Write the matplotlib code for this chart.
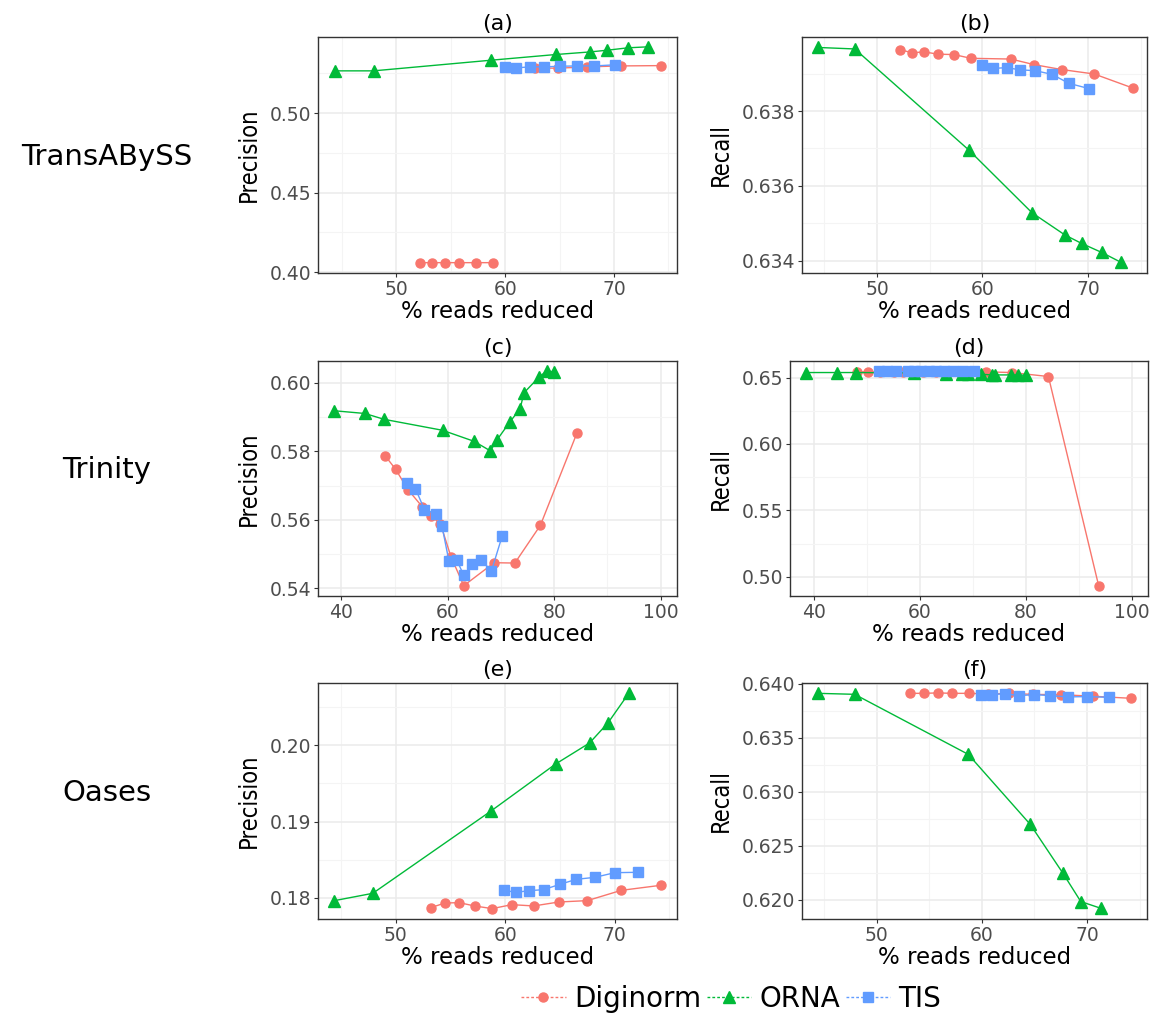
import numpy as np
import matplotlib
matplotlib.use("Agg")
import matplotlib.pyplot as plt
from matplotlib.ticker import MultipleLocator, AutoMinorLocator
from matplotlib.lines import Line2D

# colours (ggplot defaults)
c_dig = "#F8766D"
c_orna = "#00BA38"
c_tis = "#619CFF"

# ---------------- TransABySS ----------------
tab_orna_x = [44.4, 47.9, 58.7, 64.7, 67.8, 69.4, 71.3, 73.1]
tab_orna_prec = [0.5265, 0.5265, 0.5332, 0.5368, 0.5384, 0.5395, 0.5410, 0.5416]
tab_orna_rec = [0.63970, 0.63966, 0.63696, 0.63528, 0.63469, 0.63446, 0.63422, 0.63396]

tab_tis_x = [60.0, 61.0, 62.3, 63.6, 65.0, 66.6, 68.2, 70.1]
tab_tis_prec = [0.5290, 0.5284, 0.5290, 0.5290, 0.5294, 0.5296, 0.5296, 0.5303]
tab_tis_rec = [0.63922, 0.63914, 0.63916, 0.63910, 0.63908, 0.63898, 0.63874, 0.63860]

tab_dig_x = [52.2, 53.3, 54.5, 55.8, 57.3, 58.9, 62.7, 64.9, 67.5, 70.6, 74.3]
tab_dig_rec = [0.63964, 0.63956, 0.63958, 0.63952, 0.63951, 0.63941, 0.63939, 0.63924,
               0.63911, 0.63899, 0.63861]
# precision: low group, then a gap, then the upper group
tab_dig_prec_x = [52.2, 53.3, 54.5, 55.8, 57.3, 58.9, np.nan, 62.7, 64.9, 67.5, 70.6, 74.3]
tab_dig_prec = [0.4059, 0.4059, 0.4059, 0.4059, 0.4059, 0.4059, np.nan,
                0.5282, 0.5282, 0.5290, 0.5296, 0.5298]

# ---------------- Trinity ----------------
tri_orna_x = [38.6, 44.4, 48.0, 59.0, 64.9, 68.0, 69.2, 71.6, 73.6, 74.3, 77.2, 78.6, 80.0]
tri_orna_prec = [0.5918, 0.5910, 0.5893, 0.5861, 0.5829, 0.5801, 0.5832, 0.5884,
                 0.5924, 0.5970, 0.6017, 0.6034, 0.6031]
tri_orna_rec = [0.6538, 0.6538, 0.6538, 0.6535, 0.6530, 0.6528, 0.6528, 0.6525,
                0.6520, 0.6520, 0.6520, 0.6518, 0.6518]

tri_dig_x = [48.2, 50.2, 52.5, 55.2, 56.8, 58.6, 60.6, 63.0, 68.7, 72.6, 77.4, 84.3]
tri_dig_prec = [0.5787, 0.5747, 0.5688, 0.5638, 0.5611, 0.5589, 0.5492, 0.5408,
                0.5475, 0.5474, 0.5584, 0.5854]
tri_dig_rec_x = [48.2, 50.2, 52.5, 55.2, 56.8, 58.6, 60.6, 63.0, 68.7, 72.6, 77.4, 84.3, 93.8]
tri_dig_rec = [0.6543, 0.6543, 0.6543, 0.6543, 0.6543, 0.6543, 0.6543, 0.6543,
               0.6543, 0.6543, 0.6538, 0.6508, 0.4930]

tri_tis_x = [52.3, 53.9, 55.6, 57.7, 58.9, 60.2, 61.7, 63.0, 64.6, 66.2, 68.2, 70.2]
tri_tis_prec = [0.5708, 0.5691, 0.5630, 0.5618, 0.5582, 0.5480, 0.5482, 0.5438,
                0.5470, 0.5484, 0.5451, 0.5552]
tri_tis_rec = [0.6546, 0.6546, 0.6546, 0.6546, 0.6546, 0.6546, 0.6546, 0.6548,
               0.6548, 0.6546, 0.6546, 0.6546]

# ---------------- Oases ----------------
oas_orna_x = [44.4, 47.9, 58.7, 64.6, 67.7, 69.4, 71.3]
oas_orna_prec = [0.17961, 0.18057, 0.19138, 0.19755, 0.20031, 0.20298, 0.20687]
oas_orna_rec = [0.63910, 0.63901, 0.63346, 0.62698, 0.62247, 0.61985, 0.61923]

oas_dig_x = [53.2, 54.5, 55.8, 57.2, 58.8, 60.6, 62.6, 64.9, 67.5, 70.6, 74.2]
oas_dig_prec = [0.17869, 0.17930, 0.17934, 0.17891, 0.17856, 0.17908, 0.17891,
                0.17943, 0.17961, 0.18096, 0.18162]
oas_dig_rec = [0.63910, 0.63910, 0.63914, 0.63910, 0.63910, 0.63904, 0.63910,
               0.63900, 0.63898, 0.63883, 0.63864]

oas_tis_x = [59.9, 61.0, 62.2, 63.5, 65.0, 66.5, 68.2, 70.0, 72.1]
oas_tis_prec = [0.18096, 0.18070, 0.18092, 0.18105, 0.18175, 0.18241, 0.18267,
                0.18328, 0.18333]
oas_tis_rec = [0.63895, 0.63898, 0.63907, 0.63889, 0.63898, 0.63889, 0.63877,
               0.63880, 0.63873]

assemblers = ["TransABySS", "Trinity", "Oases"]
panel_titles = ["(a)", "(b)", "(c)", "(d)", "(e)", "(f)"]
legend_labels = ["Diginorm", "ORNA", "TIS"]

fig = plt.figure(figsize=(11.57, 10.16), dpi=100)

# axes boxes in figure fractions [left, bottom, width, height]
boxes = [
    [0.2749, 0.7313, 0.3103, 0.2323], [0.6932, 0.7313, 0.2982, 0.2323],
    [0.2749, 0.4134, 0.3103, 0.2313], [0.6828, 0.4134, 0.3094, 0.2313],
    [0.2749, 0.0955, 0.3103, 0.2323], [0.6932, 0.0955, 0.2982, 0.2323],
]

# (series, xlim, ylim, xstep, ystep, ylabel, yfmt)
panels = [
    ([(tab_dig_prec_x, tab_dig_prec), (tab_orna_x, tab_orna_prec), (tab_tis_x, tab_tis_prec)],
     (42.8, 75.8), (0.3994, 0.5478), 10, 0.05, "Precision", "%.2f"),
    ([(tab_dig_x, tab_dig_rec), (tab_orna_x, tab_orna_rec), (tab_tis_x, tab_tis_rec)],
     (42.9, 75.6), (0.63367, 0.63998), 10, 0.002, "Recall", "%.3f"),
    ([(tri_dig_x, tri_dig_prec), (tri_orna_x, tri_orna_prec), (tri_tis_x, tri_tis_prec)],
     (35.6, 103.1), (0.5378, 0.6063), 20, 0.02, "Precision", "%.2f"),
    ([(tri_dig_rec_x, tri_dig_rec), (tri_orna_x, tri_orna_rec), (tri_tis_x, tri_tis_rec)],
     (35.5, 103.1), (0.4855, 0.6625), 20, 0.05, "Recall", "%.2f"),
    ([(oas_dig_x, oas_dig_prec), (oas_orna_x, oas_orna_prec), (oas_tis_x, oas_tis_prec)],
     (42.9, 75.7), (0.1772, 0.2082), 10, 0.01, "Precision", "%.2f"),
    ([(oas_dig_x, oas_dig_rec), (oas_orna_x, oas_orna_rec), (oas_tis_x, oas_tis_rec)],
     (42.9, 75.7), (0.61824, 0.64006), 10, 0.005, "Recall", "%.3f"),
]

colors = [c_dig, c_orna, c_tis]
markers = ["o", "^", "s"]
msizes = [6.5, 8.5, 7]

for i, (series, xlim, ylim, xs, ys, ylab, yfmt) in enumerate(panels):
    ax = fig.add_axes(boxes[i])
    for (x, y), col, mk, ms in zip(series, colors, markers, msizes):
        ax.plot(x, y, color=col, lw=1.0, marker=mk, ms=ms, mec=col, mfc=col, zorder=3)
    ax.set_xlim(*xlim)
    ax.set_ylim(*ylim)
    ax.xaxis.set_major_locator(MultipleLocator(xs))
    ax.yaxis.set_major_locator(MultipleLocator(ys))
    ax.xaxis.set_minor_locator(AutoMinorLocator(2))
    ax.yaxis.set_minor_locator(AutoMinorLocator(2))
    ax.yaxis.set_major_formatter(matplotlib.ticker.FormatStrFormatter(yfmt))
    ax.grid(True, which="major", color="#EBEBEB", lw=1.1, zorder=0)
    ax.grid(True, which="minor", color="#F4F4F4", lw=0.8, zorder=0)
    ax.set_axisbelow(True)
    for sp in ax.spines.values():
        sp.set_color("#333333")
        sp.set_linewidth(1.0)
    ax.tick_params(which="major", length=3, width=0.8, color="#333333",
                   labelsize=13.5, labelcolor="#4D4D4D", pad=2)
    ax.tick_params(which="minor", length=0)
    ax.set_xlabel("% reads reduced", fontsize=16.5, labelpad=1)
    ax.set_ylabel(ylab, fontsize=17, labelpad=6, fontstretch="condensed")
    ax.set_title(panel_titles[i], fontsize=16, pad=5)

# row labels
for name, yc in zip(assemblers, [0.845, 0.537, 0.219]):
    fig.text(0.092, yc, name, fontsize=21, ha="center", va="center")

handles = [Line2D([0], [0], color=c, lw=1.0, ls=(0, (2, 1.5)), marker=m, ms=ms, mec=c, mfc=c)
           for c, m, ms in zip(colors, markers, msizes)]
fig.legend(handles, legend_labels, loc="center", bbox_to_anchor=(0.632, 0.017),
           ncol=3, frameon=False, fontsize=20, handlelength=1.6,
           handletextpad=0.3, columnspacing=0.2)

fig.savefig("out.png", dpi=100)
